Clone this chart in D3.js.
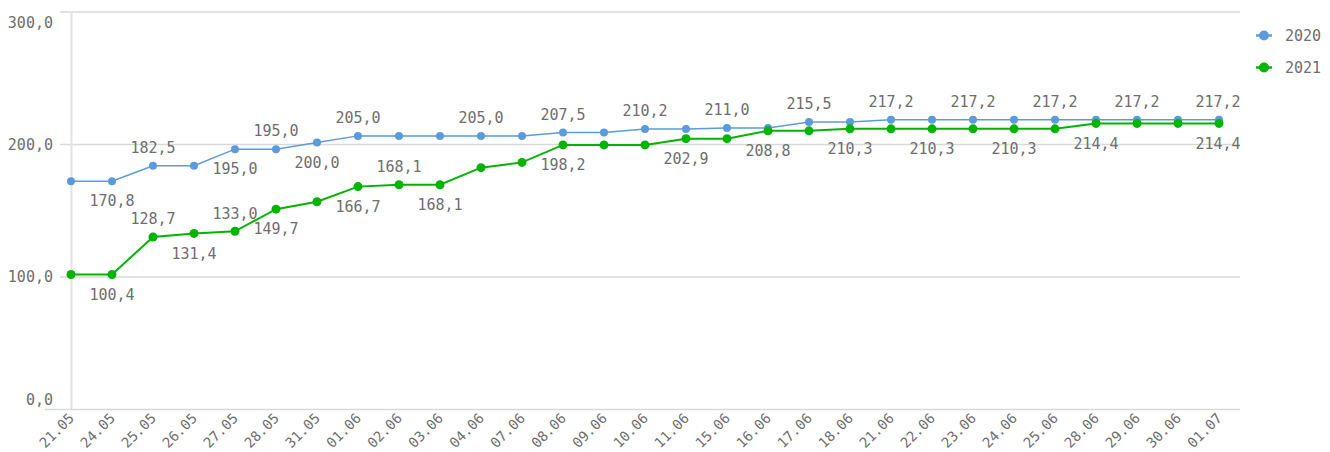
<!DOCTYPE html>
<html>
<head>
<meta charset="utf-8">
<script src="https://cdn.jsdelivr.net/npm/d3@7"></script>
<style>
  body { margin: 0; background: #fff; }
  text { font-family: "DejaVu Sans Mono", monospace; fill: #6e6e6e; }
</style>
</head>
<body>
<script>
var dates = ["21.05","24.05","25.05","26.05","27.05","28.05","31.05","01.06","02.06","03.06",
  "04.06","07.06","08.06","09.06","10.06","11.06","15.06","16.06","17.06","18.06",
  "21.06","22.06","23.06","24.06","25.06","28.06","29.06","30.06","01.07"];

var values2020 = [170.8,170.8,182.5,182.5,195.0,195.0,200.0,205.0,205.0,205.0,
  205.0,205.0,207.5,207.5,210.2,210.2,211.0,211.0,215.5,215.5,
  217.2,217.2,217.2,217.2,217.2,217.2,217.2,217.2,217.2];

var values2021 = [100.4,100.4,128.7,131.4,133.0,149.7,155.3,166.7,168.1,168.1,
  181.0,185.0,198.2,198.2,198.2,202.9,202.9,208.8,208.8,210.3,
  210.3,210.3,210.3,210.3,210.3,214.4,214.4,214.4,214.4];

var yTicks = [0, 100, 200, 300];

// which points carry a value label: a = above, b = below
var labels2020 = ["","b","a","","b","a","b","a","","","a","","a","","a","","a","","a","","a","","a","","a","","a","","a"];
var labels2021 = ["","b","a","b","a","b","","b","a","b","","","b","","","b","","b","","b","","b","","b","","b","","","b"];

var series = [
  { name: "2020", values: values2020, labels: labels2020, color: "#5b9bdc", width: 1.5, r: 4 },
  { name: "2021", values: values2021, labels: labels2021, color: "#00b400", width: 2, r: 4.5 }
];

var svgWidth = 1330, svgHeight = 452;
var svg = d3.select("body").append("svg")
  .attr("width", svgWidth)
  .attr("height", svgHeight);

var x = d3.scalePoint().domain(dates).range([71, 1219]);
var y = d3.scaleLinear().domain([0, 300]).range([409.5, 12]);
// marks sit a touch higher than the grid in the original
var yMark = d3.scaleLinear().domain([0, 300]).range([407.5, 10]);

// gridlines
svg.append("g").selectAll("line")
  .data(yTicks.filter(d => d > 0))
  .enter().append("line")
  .attr("x1", 60).attr("x2", 1240)
  .attr("y1", d => y(d)).attr("y2", d => y(d))
  .attr("stroke", "#d9d9d9").attr("stroke-width", 1.5);

// y axis line
svg.append("line")
  .attr("x1", 71.5).attr("x2", 71.5)
  .attr("y1", y(300)).attr("y2", y(0))
  .attr("stroke", "#e2e2e2").attr("stroke-width", 2);

// x axis line
svg.append("line")
  .attr("x1", 45).attr("x2", 1240)
  .attr("y1", y(0)).attr("y2", y(0))
  .attr("stroke", "#d9d9d9").attr("stroke-width", 1.5);

// y tick labels (kept inside the plot height)
svg.append("g").selectAll("text")
  .data(yTicks)
  .enter().append("text")
  .attr("x", 53)
  .attr("y", d => Math.min(400, Math.max(22.5, y(d))))
  .attr("dy", "0.35em")
  .attr("text-anchor", "end")
  .attr("font-size", "15px")
  .text(d => d3.format(".1f")(d).replace(".", ","));

// x tick labels
svg.append("g").selectAll("text")
  .data(dates)
  .enter().append("text")
  .attr("transform", d => `translate(${x(d) + 4}, 419) rotate(-45)`)
  .attr("text-anchor", "end")
  .attr("font-size", "14px")
  .text(d => d);

var line = d3.line()
  .x((d, i) => x(dates[i]))
  .y(d => yMark(d));

series.forEach(function (s) {
  svg.append("path")
    .datum(s.values)
    .attr("fill", "none")
    .attr("stroke", s.color)
    .attr("stroke-width", s.width)
    .attr("d", line);

  svg.append("g").selectAll("circle")
    .data(s.values)
    .enter().append("circle")
    .attr("cx", (d, i) => x(dates[i]))
    .attr("cy", d => yMark(d))
    .attr("r", s.r)
    .attr("fill", s.color);
});

series.forEach(function (s) {
  svg.append("g").selectAll("text")
    .data(s.values.map((v, i) => ({ v: v, i: i, pos: s.labels[i] })).filter(d => d.pos))
    .enter().append("text")
    .attr("x", d => Math.min(x(dates[d.i]), 1240 - 22))
    .attr("y", d => yMark(d.v) + (d.pos === "a" ? -18 : 20))
    .attr("dy", "0.35em")
    .attr("text-anchor", "middle")
    .attr("font-size", "15px")
    .text(d => d3.format(".1f")(d.v).replace(".", ","));
});

// legend
var legend = svg.append("g").selectAll("g")
  .data(series)
  .enter().append("g")
  .attr("transform", (d, i) => `translate(1256, ${35.5 + i * 32})`);

legend.append("line")
  .attr("x1", 0).attr("x2", 16)
  .attr("stroke", d => d.color).attr("stroke-width", 2.5);
legend.append("circle")
  .attr("cx", 8).attr("r", 5)
  .attr("fill", d => d.color);
legend.append("text")
  .attr("x", 29).attr("dy", "0.35em")
  .attr("font-size", "15px")
  .text(d => d.name);
</script>
</body>
</html>
